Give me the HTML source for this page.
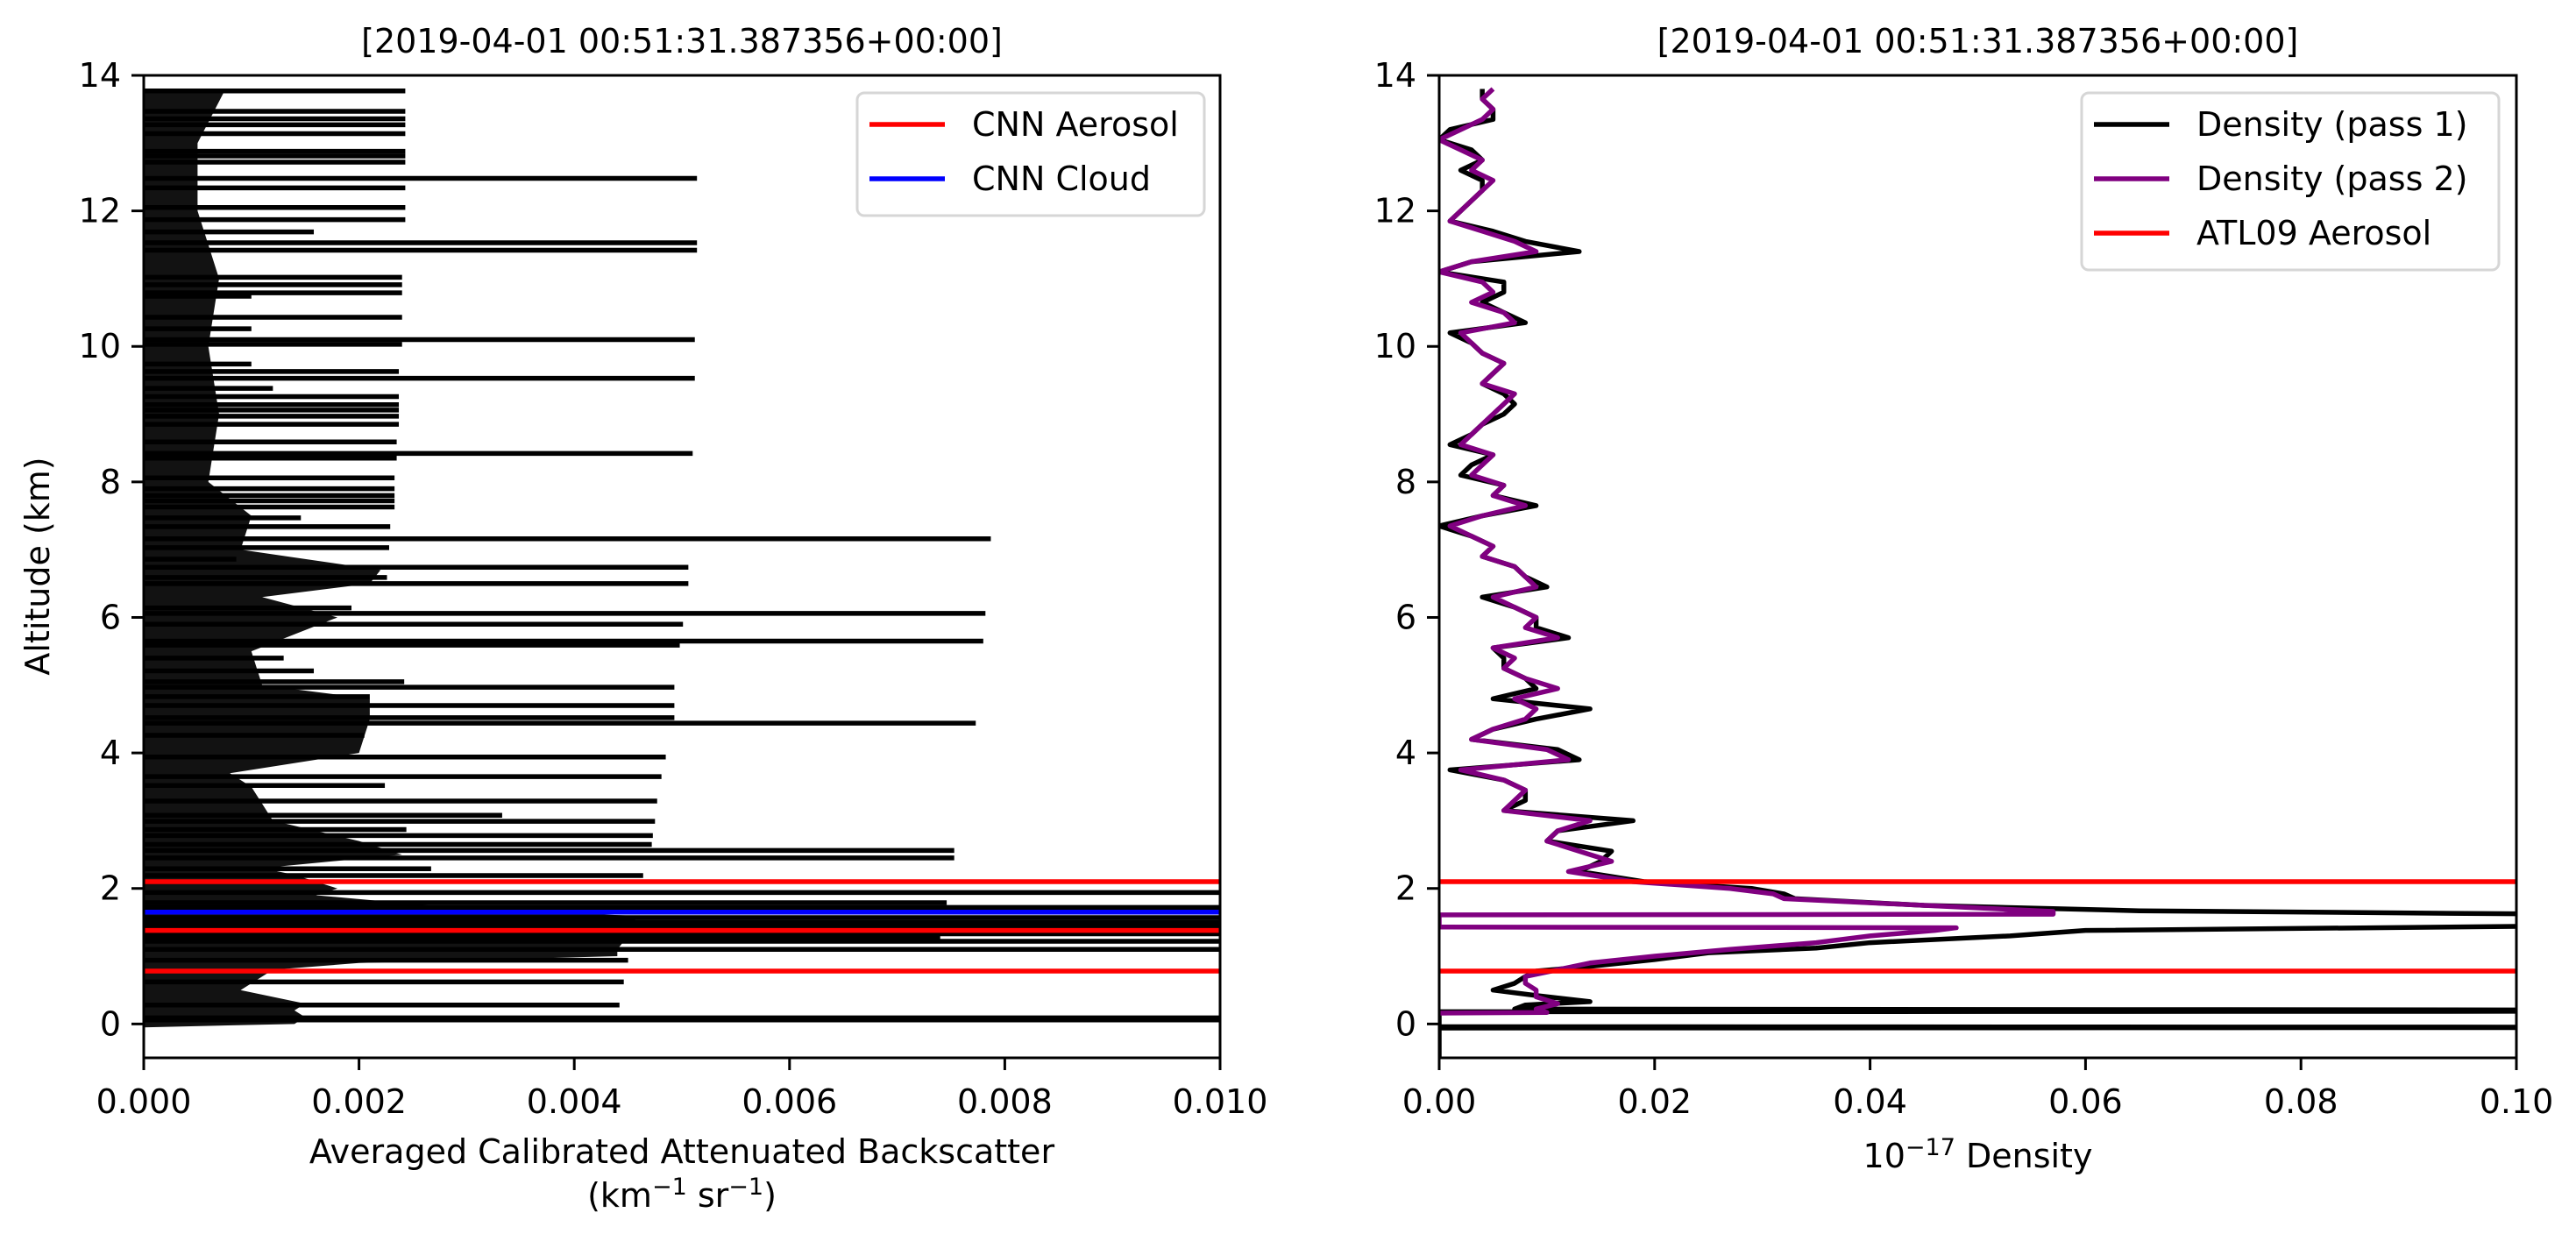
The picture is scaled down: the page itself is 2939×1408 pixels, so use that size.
<!DOCTYPE html>
<html><head><meta charset="utf-8"><title>Backscatter and density profiles</title>
<style>
html,body{margin:0;padding:0;background:#fff;}
svg{display:block;}
text{font-family:"DejaVu Sans","Liberation Sans",sans-serif;fill:#000;}
</style></head>
<body>
<svg id="fig" width="2939" height="1408" viewBox="0 0 2939 1408" xmlns="http://www.w3.org/2000/svg">
<defs>
<clipPath id="clipL"><rect x="164" y="86" width="1228" height="1121"/></clipPath>
<clipPath id="clipR"><rect x="1642" y="86" width="1229" height="1121"/></clipPath>
</defs>
<g id="left"></g>
<g id="right"></g>
</svg>
<script>
// ---------- data: left panel (backscatter) ----------
var bsBaseAlt = [13.8,13.0,12.0,11.0,10.0,9.0,8.0,7.5,7.0,6.7,6.5,6.3,6.0,5.5,5.0,4.8,4.5,4.0,3.7,3.5,3.0,2.7,2.5,2.3,2.2,2.0,1.9,1.7,1.6,1.5,1.3,1.1,1.0,0.9,0.8,0.6,0.5,0.3,0.2,0.1,0.0,-0.05];
var bsBaseVal = [0.00076,0.0005,0.0005,0.0007,0.0006,0.0007,0.0006,0.001,0.0009,0.0022,0.0021,0.0011,0.0018,0.0010,0.0011,0.0021,0.0021,0.0020,0.0008,0.0010,0.0012,0.0020,0.0024,0.0011,0.0014,0.0018,0.0016,0.0030,0.0045,0.0046,0.0045,0.0044,0.0044,0.0020,0.0012,0.0010,0.0009,0.0015,0.0014,0.0015,0.0014,0.0];
var bsSpikeAlt = [13.77,13.47,13.36,13.27,13.14,12.88,12.81,12.72,12.48,12.34,12.05,11.87,11.69,11.53,11.42,11.02,10.91,10.79,10.74,10.43,10.26,10.10,10.03,9.74,9.63,9.53,9.38,9.26,9.14,9.06,8.97,8.85,8.59,8.42,8.35,8.06,7.90,7.80,7.72,7.63,7.47,7.34,7.16,7.03,6.86,6.74,6.59,6.50,6.14,6.06,5.90,5.65,5.59,5.40,5.21,5.05,4.97,4.83,4.70,4.52,4.44,4.26,3.94,3.65,3.52,3.29,3.08,2.99,2.87,2.78,2.65,2.56,2.45,2.29,2.19,1.94,1.79,1.72,1.57,1.50,1.44,1.33,1.28,1.22,1.10,0.94,0.62,0.28,0.09,0.06];
var bsSpikeVal = [0.00243,0.00243,0.00243,0.00243,0.00243,0.00243,0.00243,0.00243,0.00514,0.00243,0.00243,0.00243,0.00158,0.00514,0.00514,0.0024,0.0024,0.0024,0.0010,0.0024,0.0010,0.00512,0.0024,0.0010,0.00237,0.00512,0.0012,0.00237,0.00237,0.00237,0.00237,0.00237,0.00235,0.0051,0.00235,0.00233,0.00233,0.00233,0.00233,0.00233,0.00146,0.00229,0.00787,0.00228,0.00086,0.00506,0.00226,0.00506,0.00193,0.00782,0.00501,0.0078,0.00498,0.0013,0.00158,0.00242,0.00493,0.00210,0.00493,0.00493,0.00773,0.00205,0.00485,0.00481,0.00224,0.00477,0.00333,0.00475,0.00244,0.00473,0.00472,0.00753,0.00753,0.00267,0.00464,0.012,0.00746,0.012,0.012,0.012,0.012,0.012,0.00740,0.012,0.012,0.00450,0.00446,0.00442,0.012,0.012];
var cnnAerosol = [2.1,1.38,0.78];
var cnnCloud = [1.65];

// ---------- data: right panel (density) ----------
var p1Alt = [13.8,13.65,13.5,13.35,13.2,13.05,12.9,12.75,12.6,12.45,12.3,12.15,12.0,11.85,11.7,11.55,11.4,11.25,11.1,10.95,10.8,10.65,10.5,10.35,10.2,10.05,9.9,9.75,9.6,9.45,9.3,9.15,9.0,8.85,8.7,8.55,8.4,8.25,8.1,7.95,7.8,7.65,7.5,7.35,7.2,7.05,6.9,6.75,6.6,6.45,6.3,6.15,6.0,5.85,5.7,5.55,5.4,5.25,5.1,4.95,4.8,4.65,4.5,4.35,4.2,4.05,3.9,3.75,3.6,3.45,3.3,3.15,3.0,2.85,2.7,2.55,2.4,2.25,2.1,
 2.0,1.92,1.85,1.75,1.67,1.6,1.47,1.38,1.3,1.2,1.12,1.05,0.95,0.85,0.78,0.7,0.6,0.5,0.42,0.33,0.28,0.22,0.2,0.19,0.18,-0.04,-0.05,-0.06,-0.5];
var p1Val = [0.004,0.004,0.005,0.005,0.001,0.000,0.003,0.004,0.002,0.004,0.004,0.003,0.002,0.001,0.005,0.008,0.013,0.003,0.000,0.006,0.006,0.004,0.006,0.008,0.001,0.003,0.004,0.006,0.005,0.004,0.006,0.007,0.006,0.004,0.003,0.001,0.005,0.003,0.002,0.006,0.005,0.009,0.004,0.000,0.003,0.005,0.004,0.007,0.008,0.010,0.004,0.007,0.009,0.009,0.012,0.005,0.006,0.006,0.008,0.009,0.005,0.014,0.009,0.005,0.003,0.011,0.013,0.001,0.006,0.008,0.008,0.006,0.018,0.011,0.010,0.016,0.015,0.013,0.019,
 0.029,0.032,0.033,0.045,0.065,0.12,0.12,0.060,0.053,0.040,0.035,0.025,0.020,0.014,0.009,0.008,0.007,0.005,0.009,0.014,0.008,0.007,0.15,0.15,0.0,0.0,0.15,0.0,0.0];
var p2Alt = [13.8,13.65,13.5,13.35,13.2,13.05,12.9,12.75,12.6,12.45,12.3,12.15,12.0,11.85,11.7,11.55,11.4,11.25,11.1,10.95,10.8,10.65,10.5,10.35,10.2,10.05,9.9,9.75,9.6,9.45,9.3,9.15,9.0,8.85,8.7,8.55,8.4,8.25,8.1,7.95,7.8,7.65,7.5,7.35,7.2,7.05,6.9,6.75,6.6,6.45,6.3,6.15,6.0,5.85,5.7,5.55,5.4,5.25,5.1,4.95,4.8,4.65,4.5,4.35,4.2,4.05,3.9,3.75,3.6,3.45,3.3,3.15,3.0,2.85,2.7,2.55,2.4,2.25,2.1,
 2.0,1.92,1.85,1.75,1.66,1.62,1.61,1.43,1.42,1.38,1.3,1.2,1.1,1.0,0.9,0.8,0.7,0.6,0.5,0.4,0.3,0.22,0.17,0.16];
var p2Val = [0.005,0.004,0.005,0.004,0.002,0.000,0.002,0.004,0.003,0.005,0.004,0.003,0.002,0.001,0.004,0.007,0.009,0.003,0.000,0.004,0.005,0.003,0.006,0.007,0.002,0.003,0.004,0.006,0.005,0.004,0.007,0.006,0.005,0.004,0.003,0.002,0.005,0.004,0.003,0.006,0.005,0.008,0.004,0.001,0.003,0.005,0.004,0.007,0.008,0.009,0.005,0.007,0.009,0.008,0.011,0.005,0.007,0.006,0.008,0.011,0.007,0.009,0.008,0.005,0.003,0.010,0.012,0.002,0.006,0.008,0.007,0.006,0.014,0.011,0.010,0.013,0.016,0.012,0.018,
 0.027,0.031,0.032,0.045,0.057,0.057,0.0,0.0,0.048,0.046,0.040,0.035,0.027,0.020,0.014,0.011,0.008,0.008,0.009,0.009,0.011,0.009,0.010,0.0];
var atl09Aerosol = [2.1,0.78];

var yTicks = [0,2,4,6,8,10,12,14];
var xTicksL = [0,0.002,0.004,0.006,0.008,0.010];
var xTickLabelsL = ["0.000","0.002","0.004","0.006","0.008","0.010"];
var xTicksR = [0,0.02,0.04,0.06,0.08,0.10];
var xTickLabelsR = ["0.00","0.02","0.04","0.06","0.08","0.10"];

// ---------- layout ----------
var NS = "http://www.w3.org/2000/svg";
var TOP = 86, BOT = 1207, YMIN = -0.5, YMAX = 14;
function yS(v){ return BOT - (v - YMIN) / (YMAX - YMIN) * (BOT - TOP); }
function mk(tag, attrs, parent){ var e = document.createElementNS(NS, tag); for (var k in attrs) e.setAttribute(k, attrs[k]); parent.appendChild(e); return e; }
function txt(parent, x, y, s, anchor, size){ var t = mk('text', {x:x, y:y, 'text-anchor':anchor||'middle', 'font-size':size||38}, parent); t.textContent = s; return t; }

function axes(g, x0, x1, xmax, xticks, xlabels){
  function xS(v){ return x0 + v / xmax * (x1 - x0); }
  yTicks.forEach(function(v){
    var l = mk('line', {x1:x0-14, x2:x0, y1:yS(v), y2:yS(v), stroke:'#000', 'stroke-width':3}, g);
    
    
    var t = txt(g, x0-26, yS(v)+13, String(v), 'end');
    
    
  });
  xticks.forEach(function(v, i){
    var l = mk('line', {x1:xS(v), x2:xS(v), y1:BOT, y2:BOT+14, stroke:'#000', 'stroke-width':3}, g);
    
    
    var t = txt(g, xS(v), 1270, xlabels[i], 'middle');
    
    
  });
  return xS;
}
function frame(g, x0, x1){
  var r = mk('rect', {x:x0, y:TOP, width:x1-x0, height:BOT-TOP, fill:'none', stroke:'#000', 'stroke-width':3}, g);
  
  
}
function legend(g, bx, by, bw, bh, entries){
  var lg = mk('g', {}, g);
  
  
  mk('rect', {x:bx, y:by, width:bw, height:bh, rx:8, fill:'#fff', 'fill-opacity':0.85, stroke:'#d6d6d6', 'stroke-width':3}, lg);
  entries.forEach(function(e, i){
    var yy = by + 36 + i*62;
    var eg = mk('g', {}, lg);
    
    
    mk('line', {x1:bx+14, x2:bx+100, y1:yy, y2:yy, stroke:e[1], 'stroke-width':5.5}, eg);
    txt(eg, bx+131, yy+13, e[0], 'start');
  });
}

// ---------- left panel ----------
(function(){
  var g = document.getElementById('left');
  var x0 = 164, x1 = 1392;
  var xS = axes(g, x0, x1, 0.01, xTicksL, xTickLabelsL);
  var d = mk('g', {'clip-path':'url(#clipL)'}, g);
  var pts = [[0, bsBaseAlt[0]]];
  for (var i=0;i<bsBaseAlt.length;i++) pts.push([bsBaseVal[i], bsBaseAlt[i]]);
  pts.push([0, bsBaseAlt[bsBaseAlt.length-1]]);
  var poly = mk('polygon', {points: pts.map(function(p){return xS(p[0])+','+yS(p[1]);}).join(' '), fill:'#000', 'fill-opacity':0.93}, d);
  
  
  for (var j=0;j<bsSpikeAlt.length;j++){
    var s = mk('line', {x1:x0, x2:xS(bsSpikeVal[j]), y1:yS(bsSpikeAlt[j]), y2:yS(bsSpikeAlt[j]), stroke:'#000', 'stroke-width':5.5}, d);
    
    
  }
  cnnCloud.forEach(function(v){
    var l = mk('line', {x1:x0, x2:x1, y1:yS(v), y2:yS(v), stroke:'#0000ff', 'stroke-width':5.5}, d);
    
    
  });
  cnnAerosol.forEach(function(v){
    var l = mk('line', {x1:x0, x2:x1, y1:yS(v), y2:yS(v), stroke:'#ff0000', 'stroke-width':5.5}, d);
    
    
  });
  frame(g, x0, x1);
  var t = txt(g, (x0+x1)/2, 60, '[2019-04-01 00:51:31.387356+00:00]');
  
  
  var xl = txt(g, (x0+x1)/2, 1327, 'Averaged Calibrated Attenuated Backscatter');
  
  
  var xl2 = mk('text', {x:(x0+x1)/2, y:1377, 'text-anchor':'middle', 'font-size':38}, g);
  xl2.innerHTML = '(km<tspan dy="-14" font-size="27">\u22121</tspan><tspan dy="14"> sr</tspan><tspan dy="-14" font-size="27">\u22121</tspan><tspan dy="14">)</tspan>';
  
  
  var yl = mk('text', {x:0, y:0, 'text-anchor':'middle', 'font-size':38, transform:'translate(56,646) rotate(-90)'}, g);
  yl.textContent = 'Altitude (km)';
  
  
  legend(g, 978, 106, 396, 140, [['CNN Aerosol','#ff0000'],['CNN Cloud','#0000ff']]);
})();

// ---------- right panel ----------
(function(){
  var g = document.getElementById('right');
  var x0 = 1642, x1 = 2871;
  var xS = axes(g, x0, x1, 0.1, xTicksR, xTickLabelsR);
  var d = mk('g', {'clip-path':'url(#clipR)'}, g);
  function line(alts, vals, color, name){
    var p = [];
    for (var i=0;i<alts.length;i++) p.push(xS(vals[i])+','+yS(alts[i]));
    var pl = mk('polyline', {points:p.join(' '), fill:'none', stroke:color, 'stroke-width':5.5, 'stroke-linejoin':'round'}, d);
    
    
  }
  line(p1Alt, p1Val, '#000000', 'density-pass-1-line');
  line(p2Alt, p2Val, '#800080', 'density-pass-2-line');
  atl09Aerosol.forEach(function(v){
    var l = mk('line', {x1:x0, x2:x1, y1:yS(v), y2:yS(v), stroke:'#ff0000', 'stroke-width':5.5}, d);
    
    
  });
  frame(g, x0, x1);
  var t = txt(g, (x0+x1)/2, 60, '[2019-04-01 00:51:31.387356+00:00]');
  
  
  var xl = mk('text', {x:(x0+x1)/2, y:1332, 'text-anchor':'middle', 'font-size':38}, g);
  xl.innerHTML = '10<tspan dy="-14" font-size="27">\u221217</tspan><tspan dy="14"> Density</tspan>';
  
  
  legend(g, 2375, 106, 476, 202, [['Density (pass 1)','#000000'],['Density (pass 2)','#800080'],['ATL09 Aerosol','#ff0000']]);
})();
</script>
</body></html>
